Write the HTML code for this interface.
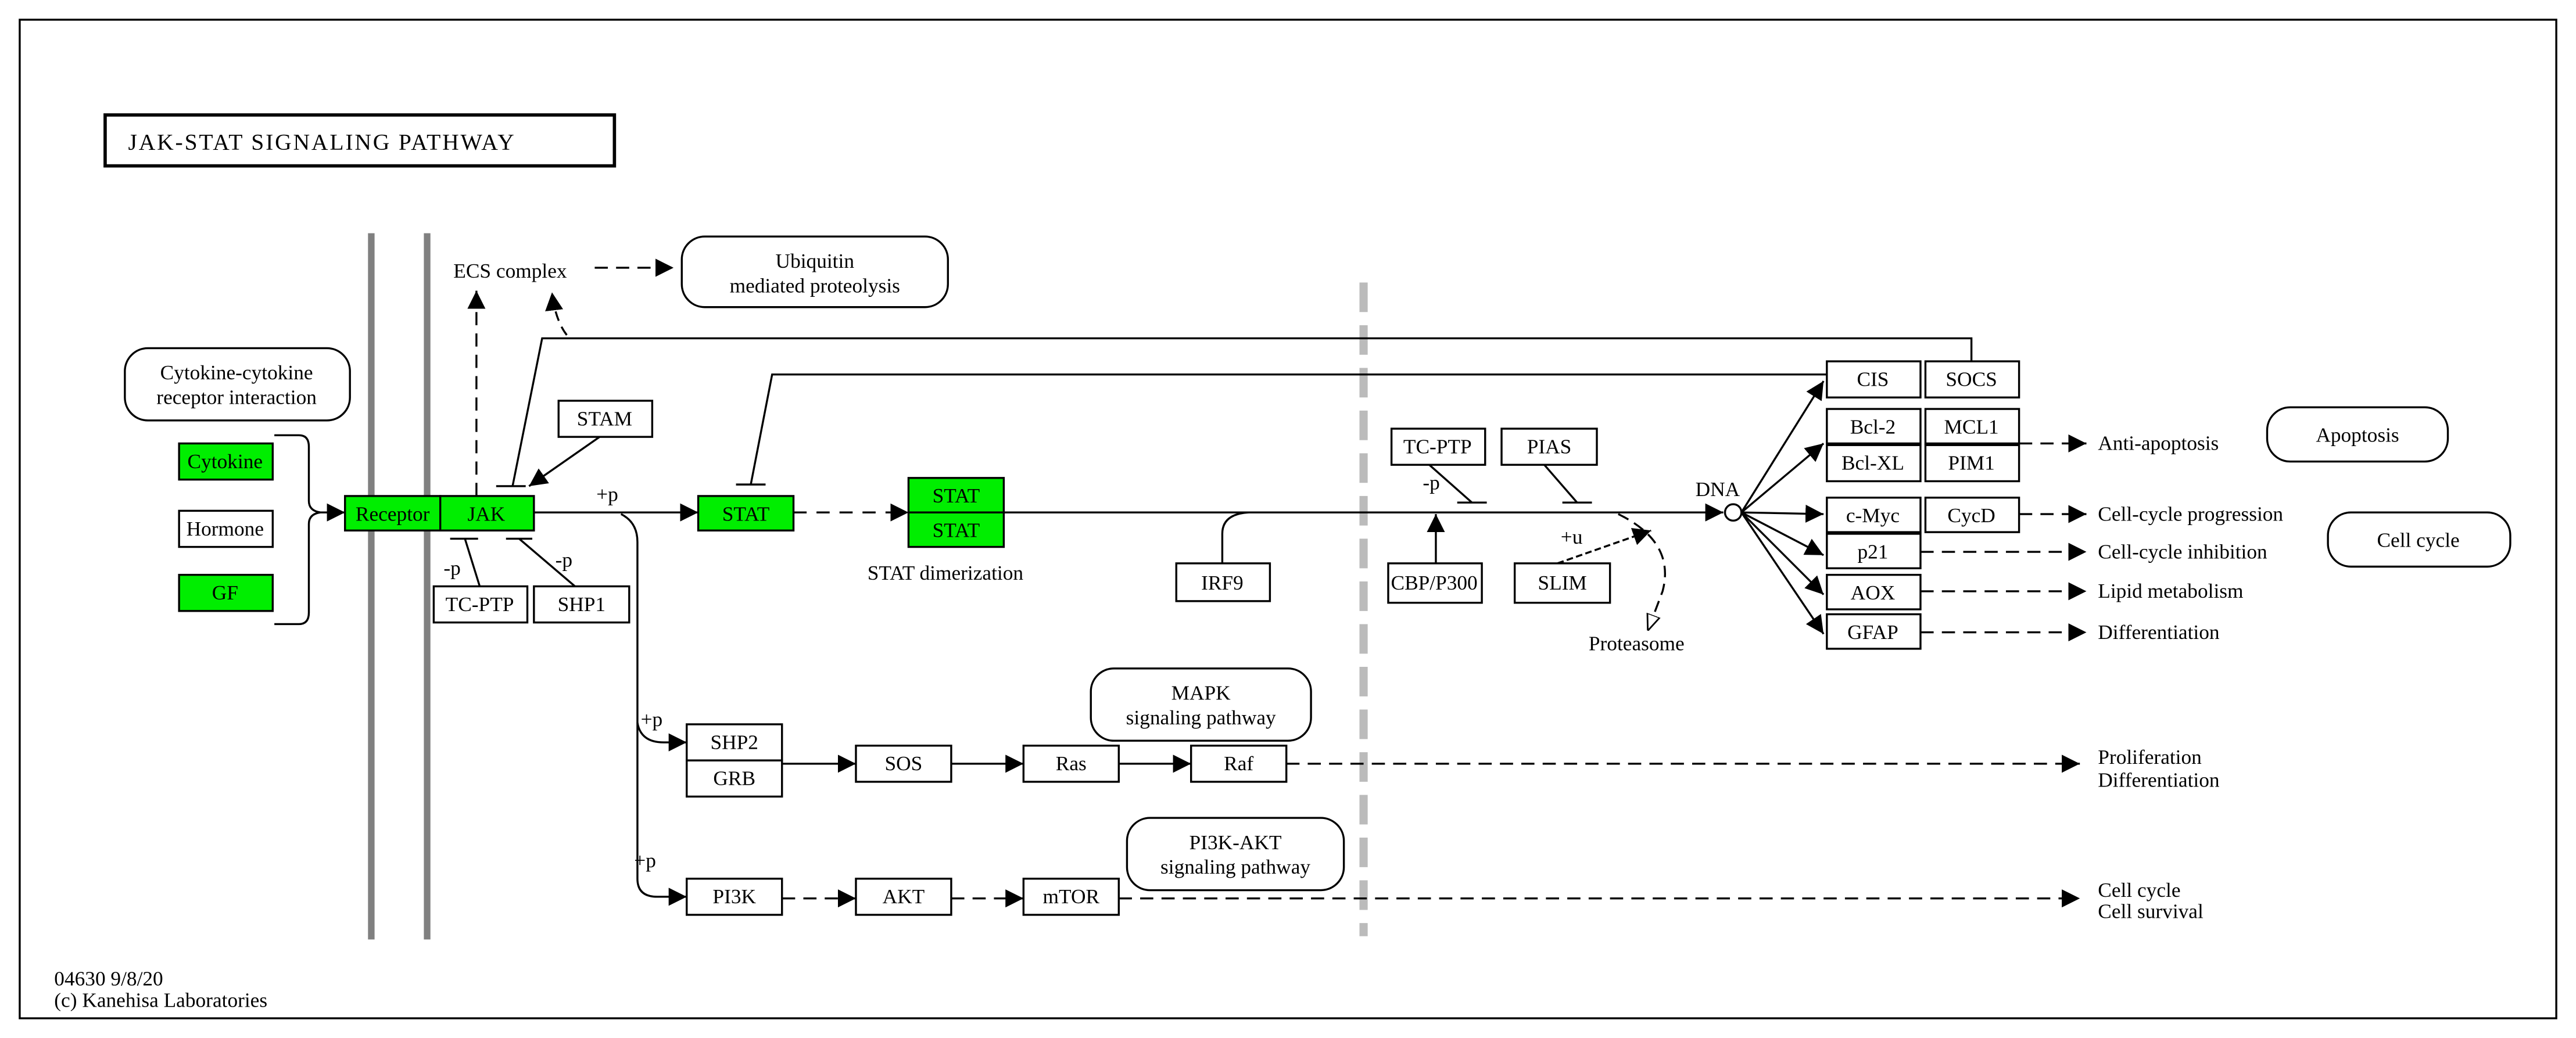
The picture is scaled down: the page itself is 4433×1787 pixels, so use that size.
<!DOCTYPE html>
<html><head><meta charset="utf-8"><style>
html,body{margin:0;padding:0;background:#fff;}
svg{display:block;}
text{font-family:"Liberation Serif",serif;font-size:12.5px;fill:#000;}
</style></head><body>
<svg width="4433" height="1787" viewBox="0 0 1568 632" preserveAspectRatio="none" xmlns="http://www.w3.org/2000/svg">
<defs>
<marker id="a" viewBox="0 0 10 10" refX="10" refY="5" markerWidth="11" markerHeight="11" markerUnits="userSpaceOnUse" orient="auto"><path d="M0,0L10,5L0,10z" fill="#000"/></marker>
<marker id="h" viewBox="0 0 10 10" refX="10" refY="5" markerWidth="10" markerHeight="10" markerUnits="userSpaceOnUse" orient="auto"><path d="M0,1L10,5L0,9z" fill="#fff" stroke="#000"/></marker>
</defs>
<rect x="12" y="12" width="1544" height="608" fill="#fff" stroke="#000" stroke-width="1.2"/>
<rect x="64" y="70" width="310" height="31" fill="#fff" stroke="#000" stroke-width="2"/>
<text x="78" y="91" style="font-size:14px;letter-spacing:1px">JAK-STAT SIGNALING PATHWAY</text>

<g stroke="#808080" stroke-width="4"><line x1="226" y1="142" x2="226" y2="572"/><line x1="260" y1="142" x2="260" y2="572"/></g>
<line x1="830" y1="172" x2="830" y2="570" stroke="#bbb" stroke-width="5" stroke-dasharray="18,8"/>

<g fill="none" stroke="#000" stroke-width="1.2">
<path d="M167,265 H182 Q188,265 188,272 V305 Q188,311 195,312 Q188,313 188,319 V373 Q188,380 182,380 H167"/>
<line x1="195" y1="312" x2="210" y2="312" marker-end="url(#a)"/>
<line x1="290" y1="302" x2="290" y2="177" stroke-dasharray="8,5" marker-end="url(#a)"/>
<line x1="362" y1="163" x2="410" y2="163" stroke-dasharray="8,5" marker-end="url(#a)"/>
<path d="M345,204 Q338,195 336,178" stroke-dasharray="6,4" marker-end="url(#a)"/>
<path d="M1200,220 V206 H330 L312,296"/><line x1="302" y1="296" x2="320" y2="296"/>
<path d="M1112,228 H470 L457,295"/><line x1="448" y1="295" x2="466" y2="295"/>
<line x1="365" y1="266" x2="322" y2="296" marker-end="url(#a)"/>
<path d="M292,357 L283,328"/><line x1="274" y1="328" x2="291" y2="328"/>
<path d="M350,357 L316,328"/><line x1="308" y1="328" x2="324" y2="328"/>
<line x1="325" y1="312" x2="425" y2="312" marker-end="url(#a)"/>
<line x1="483" y1="312" x2="553" y2="312" stroke-dasharray="8,6" marker-end="url(#a)"/>
<line x1="611" y1="312" x2="1049" y2="312" marker-end="url(#a)"/>
<path d="M744,343 V325 Q744,313 760,312"/>
<path d="M870,283 L896,306"/><line x1="887" y1="306" x2="905" y2="306"/>
<path d="M940,283 L960,306"/><line x1="951" y1="306" x2="969" y2="306"/>
<line x1="874" y1="343" x2="874" y2="313" marker-end="url(#a)"/>
<line x1="948" y1="343" x2="1005" y2="323" stroke-dasharray="4,2" marker-end="url(#a)"/>
<path d="M985,313 Q1020,330 1012,360 L1003,384" stroke-dasharray="7,4" marker-end="url(#h)"/>
<line x1="1060" y1="312" x2="1110" y2="232" marker-end="url(#a)"/>
<line x1="1060" y1="312" x2="1110" y2="270" marker-end="url(#a)"/>
<line x1="1060" y1="312" x2="1110" y2="313" marker-end="url(#a)"/>
<line x1="1060" y1="312" x2="1110" y2="338" marker-end="url(#a)"/>
<line x1="1060" y1="312" x2="1110" y2="362" marker-end="url(#a)"/>
<line x1="1060" y1="312" x2="1110" y2="386" marker-end="url(#a)"/>
<g stroke-dasharray="8,5">
<line x1="1229" y1="270" x2="1270" y2="270" marker-end="url(#a)"/>
<line x1="1229" y1="313" x2="1270" y2="313" marker-end="url(#a)"/>
<line x1="1169" y1="336" x2="1270" y2="336" marker-end="url(#a)"/>
<line x1="1169" y1="360" x2="1270" y2="360" marker-end="url(#a)"/>
<line x1="1169" y1="385" x2="1270" y2="385" marker-end="url(#a)"/>
<line x1="783" y1="465" x2="1266" y2="465" marker-end="url(#a)"/>
<line x1="681" y1="547" x2="1266" y2="547" marker-end="url(#a)"/>
<line x1="476" y1="547" x2="521" y2="547" marker-end="url(#a)"/>
<line x1="579" y1="547" x2="623" y2="547" marker-end="url(#a)"/>
</g>
<path d="M378,313 Q388,318 388,330 V535 Q388,546 400,546 H418" marker-end="url(#a)"/>
<path d="M388,440 Q390,452 404,452 H418" marker-end="url(#a)"/>
<line x1="476" y1="465" x2="521" y2="465" marker-end="url(#a)"/>
<line x1="579" y1="465" x2="623" y2="465" marker-end="url(#a)"/>
<line x1="681" y1="465" x2="725" y2="465" marker-end="url(#a)"/>
</g>
<circle cx="1055" cy="312" r="5" fill="#fff" stroke="#000" stroke-width="1.2"/>

<g fill="#fff" stroke="#000" stroke-width="1.2">
<rect x="76" y="212" width="137" height="44" rx="14"/>
<rect x="415" y="144" width="162" height="43" rx="14"/>
<rect x="664" y="407" width="134" height="44" rx="14"/>
<rect x="686" y="498" width="132" height="44" rx="14"/>
<rect x="1380" y="248" width="110" height="33" rx="14"/>
<rect x="1417" y="312" width="111" height="33" rx="14"/>
</g>
<g stroke="#000" stroke-width="1.2">
<rect x="109" y="270" width="57" height="22" fill="#00ee00"/>
<rect x="109" y="311" width="57" height="22" fill="#fff"/>
<rect x="109" y="350" width="57" height="22" fill="#00ee00"/>
<rect x="210" y="302" width="58" height="21" fill="#00ee00"/>
<rect x="268" y="302" width="57" height="21" fill="#00ee00"/>
<rect x="425" y="302" width="58" height="21" fill="#00ee00"/>
<rect x="553" y="291" width="58" height="21" fill="#00ee00"/>
<rect x="553" y="312" width="58" height="21" fill="#00ee00"/>
<g fill="#fff">
<rect x="340" y="244" width="57" height="22"/>
<rect x="264" y="357" width="57" height="22"/>
<rect x="325" y="357" width="58" height="22"/>
<rect x="716" y="343" width="57" height="23"/>
<rect x="847" y="261" width="57" height="22"/>
<rect x="914" y="261" width="58" height="22"/>
<rect x="845" y="343" width="57" height="24"/>
<rect x="922" y="343" width="58" height="24"/>
<rect x="1112" y="220" width="57" height="22"/><rect x="1172" y="220" width="57" height="22"/>
<rect x="1112" y="249" width="57" height="21"/><rect x="1172" y="249" width="57" height="21"/>
<rect x="1112" y="271" width="57" height="22"/><rect x="1172" y="271" width="57" height="22"/>
<rect x="1112" y="303" width="57" height="21"/><rect x="1172" y="303" width="57" height="21"/>
<rect x="1112" y="325" width="57" height="21"/>
<rect x="1112" y="350" width="57" height="21"/>
<rect x="1112" y="374" width="57" height="21"/>
<rect x="418" y="441" width="58" height="22"/><rect x="418" y="463" width="58" height="22"/>
<rect x="521" y="454" width="58" height="22"/>
<rect x="623" y="454" width="58" height="22"/>
<rect x="725" y="454" width="58" height="22"/>
<rect x="418" y="535" width="58" height="22"/>
<rect x="521" y="535" width="58" height="22"/>
<rect x="623" y="535" width="58" height="22"/>
</g></g>

<g text-anchor="middle">
<text x="144" y="231">Cytokine-cytokine</text><text x="144" y="246">receptor interaction</text>
<text x="496" y="163">Ubiquitin</text><text x="496" y="178">mediated proteolysis</text>
<text x="731" y="426">MAPK</text><text x="731" y="441">signaling pathway</text>
<text x="752" y="517">PI3K-AKT</text><text x="752" y="532">signaling pathway</text>
<text x="1435" y="269">Apoptosis</text>
<text x="1472" y="333">Cell cycle</text>
<text x="137" y="285">Cytokine</text><text x="137" y="326">Hormone</text><text x="137" y="365">GF</text>
<text x="239" y="317">Receptor</text><text x="296" y="317">JAK</text><text x="454" y="317">STAT</text>
<text x="582" y="306">STAT</text><text x="582" y="327">STAT</text>
<text x="368" y="259">STAM</text><text x="292" y="372">TC-PTP</text><text x="354" y="372">SHP1</text>
<text x="744" y="359">IRF9</text><text x="875" y="276">TC-PTP</text><text x="943" y="276">PIAS</text>
<text x="873" y="359">CBP/P300</text><text x="951" y="359">SLIM</text>
<text x="1140" y="235">CIS</text><text x="1200" y="235">SOCS</text>
<text x="1140" y="264">Bcl-2</text><text x="1200" y="264">MCL1</text>
<text x="1140" y="286">Bcl-XL</text><text x="1200" y="286">PIM1</text>
<text x="1140" y="318">c-Myc</text><text x="1200" y="318">CycD</text>
<text x="1140" y="340">p21</text><text x="1140" y="365">AOX</text><text x="1140" y="389">GFAP</text>
<text x="447" y="456">SHP2</text><text x="447" y="478">GRB</text><text x="550" y="469">SOS</text>
<text x="652" y="469">Ras</text><text x="754" y="469">Raf</text>
<text x="447" y="550">PI3K</text><text x="550" y="550">AKT</text><text x="652" y="550">mTOR</text>
</g>
<text x="276" y="169">ECS complex</text>
<text x="363" y="305">+p</text>
<text x="270" y="350">-p</text><text x="338" y="345">-p</text>
<text x="528" y="353">STAT dimerization</text>
<text x="1032" y="302">DNA</text>
<text x="866" y="298">-p</text><text x="950" y="331">+u</text>
<text x="967" y="396">Proteasome</text>
<text x="1277" y="274">Anti-apoptosis</text>
<text x="1277" y="317">Cell-cycle progression</text>
<text x="1277" y="340">Cell-cycle inhibition</text>
<text x="1277" y="364">Lipid metabolism</text>
<text x="1277" y="389">Differentiation</text>
<text x="1277" y="465">Proliferation</text><text x="1277" y="479">Differentiation</text>
<text x="1277" y="546">Cell cycle</text><text x="1277" y="559">Cell survival</text>
<text x="390" y="442">+p</text><text x="386" y="528">+p</text>
<text x="33" y="600">04630 9/8/20</text>
<text x="33" y="613">(c) Kanehisa Laboratories</text>
</svg>
</body></html>
